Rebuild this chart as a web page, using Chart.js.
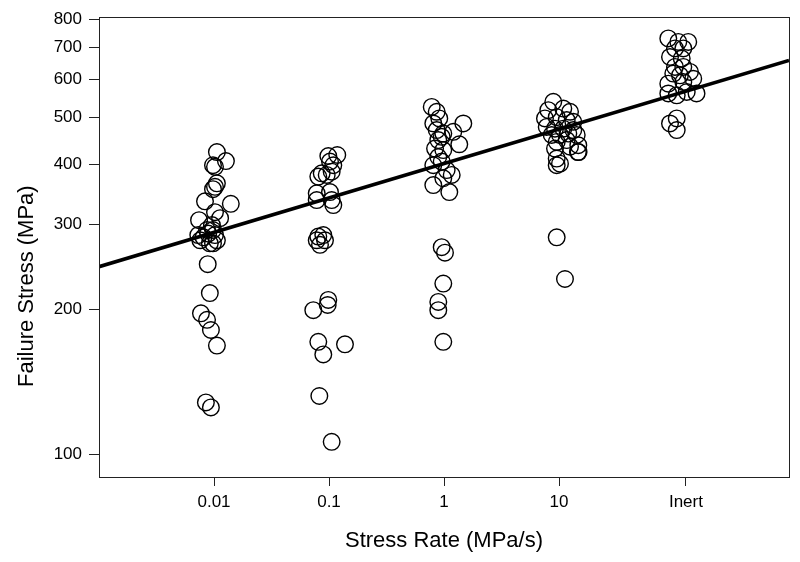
<!DOCTYPE html>
<html><head><meta charset="utf-8">
<script src="https://cdn.jsdelivr.net/npm/chart.js@4"></script>
<style>html,body{margin:0;padding:0;background:#fff}</style>
</head><body>
<canvas id="c" width="800" height="562" style="width:800px;height:562px;display:block"></canvas>
<script>
// Tick definitions
const tickValuesX = [0.01, 0.1, 1, 10, 127];
const tickLabelsX = ['0.01', '0.1', '1', '10', 'Inert'];
const tickValuesY = [100, 200, 300, 400, 500, 600, 700, 800];
const xTitle = 'Stress Rate (MPa/s)';
const yTitle = 'Failure Stress (MPa)';

// Stress rate 0.01 MPa/s (jittered x positions, failure stress)
const rate001X = [0.0106, 0.0127, 0.0098, 0.0102, 0.0106, 0.0102, 0.0098, 0.00835, 0.0140, 0.0102, 0.0113, 0.00741,
  0.0096, 0.0087, 0.0098, 0.0073, 0.0081, 0.0089, 0.0102, 0.0106, 0.0076, 0.0092, 0.0098,
  0.00882, 0.0092, 0.0077, 0.0087, 0.0094, 0.0106, 0.0085, 0.0094];
const rate001Y = [424, 406, 398, 395, 365, 359, 355, 335, 331, 318, 309, 306,
  299, 292, 292, 285, 282, 287, 285, 278, 278, 274, 274,
  248, 216, 196, 190, 181, 168, 128, 125];

// Stress rate 0.1 MPa/s
const rate01X = [0.118, 0.0986, 0.102, 0.109, 0.1055, 0.0864, 0.0807, 0.0955, 0.0782, 0.102, 0.0782, 0.1055, 0.109,
  0.0807, 0.0892, 0.0782, 0.0835, 0.0923, 0.0986, 0.0730, 0.0974, 0.0807, 0.0892, 0.1377, 0.0824, 0.1055];
const rate01Y = [418, 416, 405, 398, 386, 383, 377, 380, 348, 350, 337, 337, 329,
  283, 285, 278, 272, 278, 209, 199, 204, 171, 161, 169, 132, 106];

// Stress rate 1 MPa/s
const rate1X = [0.782, 0.864, 0.910, 1.472, 0.807, 0.864, 0.986, 0.955, 1.205, 1.358, 0.892, 0.836, 0.986, 0.892,
  0.955, 0.807, 1.055, 1.167, 0.986, 0.807, 1.112, 0.955, 1.02, 0.986, 0.892, 0.892, 0.986];
const rate1Y = [526, 514, 498, 486, 486, 471, 463, 456, 467, 440, 449, 431, 428, 414,
  405, 398, 389, 380, 374, 362, 350, 269, 262, 226, 207, 199, 171];

// Stress rate 10 MPa/s
const rate10X = [8.92, 8.07, 10.9, 12.47, 7.55, 9.55, 11.67, 13.32, 7.82, 9.23, 10.9, 13.32, 8.64, 10.2, 12.05, 14.26,
  9.55, 11.67, 14.72, 9.23, 12.47, 14.6, 14.8, 9.55, 10.2, 9.55, 9.55, 11.27];
const rate10Y = [539, 518, 522, 514, 498, 501, 494, 490, 478, 474, 474, 471, 460, 460, 463, 460,
  445, 449, 438, 431, 435, 424, 424, 411, 401, 398, 282, 231];

// Inert
const inertX = [89.2, 109, 133, 102, 120.5, 92.3, 116.7, 102, 120.5, 98.6, 112.7, 137.8, 89.2, 120.5, 147,
  89.2, 105.6, 129, 157, 92.3, 105.6, 105.6];
const inertY = [730, 718, 718, 696, 696, 668, 663, 637, 637, 617, 612, 622, 588, 593, 602,
  561, 556, 565, 561, 486, 498, 471];

// Fitted line end points
const fitX = [0.001, 1000];
const fitY = [245, 657];

const FONT = 'Liberation Sans, Arial, Helvetica, sans-serif';
const toPts = (xs, ys) => xs.map((x, i) => ({x: x, y: ys[i]}));
const allX = [].concat(rate001X, rate01X, rate1X, rate10X, inertX);
const allY = [].concat(rate001Y, rate01Y, rate1Y, rate10Y, inertY);

const framePlugin = {
  id: 'frame',
  afterDraw(chart) {
    const {ctx, chartArea: a} = chart;
    ctx.save();
    ctx.strokeStyle = '#222';
    ctx.lineWidth = 1;
    ctx.strokeRect(Math.round(a.left) + 0.5, Math.round(a.top) + 0.5, Math.round(a.right - a.left), Math.round(a.bottom - a.top));
    // y-axis title, placed slightly below the plot centre as in the reference
    ctx.fillStyle = '#000';
    ctx.font = '22px ' + FONT;
    ctx.textAlign = 'center';
    ctx.textBaseline = 'middle';
    ctx.translate(27, a.top + (a.bottom - a.top) * 0.585);
    ctx.rotate(-Math.PI / 2);
    ctx.fillText(yTitle, 0, 0);
    ctx.restore();
  }
};

new Chart(document.getElementById('c'), {
  type: 'scatter',
  data: {
    datasets: [
      {
        type: 'scatter',
        label: 'Data',
        data: toPts(allX, allY),
        pointRadius: 8.3,
        pointHoverRadius: 8.3,
        pointBorderWidth: 1.4,
        pointBorderColor: '#000',
        pointBackgroundColor: 'rgba(0,0,0,0)',
        order: 2,
        clip: false
      },
      {
        type: 'line',
        label: 'Fit',
        data: toPts(fitX, fitY),
        borderColor: '#000',
        borderWidth: 3.6,
        pointRadius: 0,
        fill: false,
        order: 1
      }
    ]
  },
  options: {
    responsive: false,
    animation: false,
    devicePixelRatio: 1,
    layout: {padding: {top: 17, right: 11, left: 0, bottom: 0}},
    plugins: {legend: {display: false}, tooltip: {enabled: false}},
    scales: {
      x: {
        type: 'logarithmic',
        position: 'bottom',
        min: 0.001,
        max: 1000,
        afterBuildTicks: s => { s.ticks = tickValuesX.map(v => ({value: v})); },
        afterFit: s => { s.height = 85; },
        ticks: {
          callback: (v, i) => tickLabelsX[i],
          font: {family: FONT, size: 17},
          color: '#000',
          padding: 6,
          maxRotation: 0,
          autoSkip: false
        },
        grid: {drawOnChartArea: false, drawTicks: true, tickLength: 9, color: '#222', lineWidth: 1},
        border: {display: true, color: '#222', width: 1},
        title: {display: true, text: xTitle, font: {family: FONT, size: 22}, color: '#000', padding: {top: 0, bottom: 8}}
      },
      y: {
        type: 'logarithmic',
        position: 'left',
        min: 89.6,
        max: 808,
        afterBuildTicks: s => { s.ticks = tickValuesY.map(v => ({value: v})); },
        afterFit: s => { s.width = 99; },
        ticks: {
          callback: v => String(v),
          font: {family: FONT, size: 17},
          color: '#000',
          padding: 7,
          autoSkip: false
        },
        grid: {drawOnChartArea: false, drawTicks: true, tickLength: 10, color: '#222', lineWidth: 1},
        border: {display: true, color: '#222', width: 1},
        title: {display: false}
      }
    }
  },
  plugins: [framePlugin]
});
</script>
</body></html>
